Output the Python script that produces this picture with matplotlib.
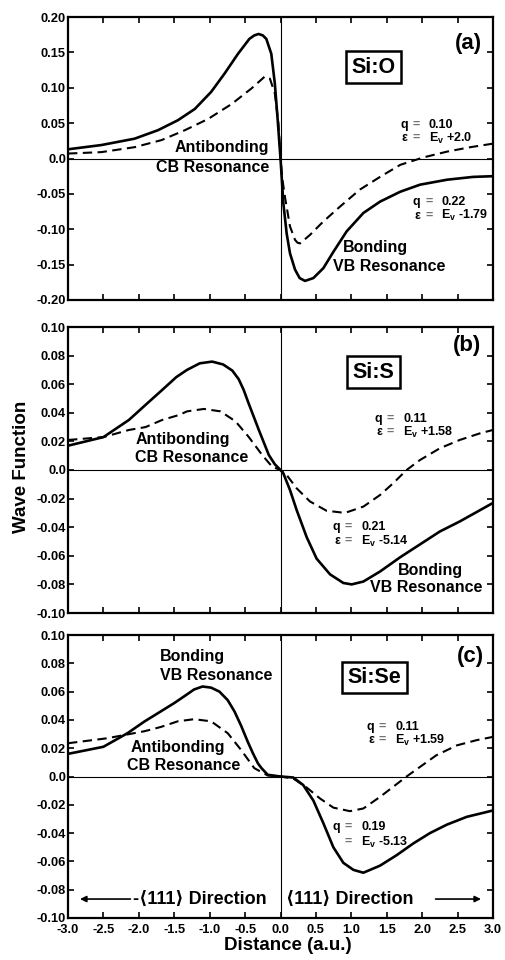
import matplotlib
matplotlib.use("Agg")
import matplotlib.pyplot as plt
from matplotlib.ticker import FixedLocator, FixedFormatter

plt.rcParams['font.family'] = ['Liberation Sans', 'DejaVu Sans']
plt.rcParams['font.weight'] = 'bold'
plt.rcParams['mathtext.fontset'] = 'custom'
plt.rcParams['mathtext.bf'] = 'Liberation Sans:bold'
plt.rcParams['mathtext.rm'] = 'Liberation Sans:bold'
plt.rcParams['mathtext.it'] = 'Liberation Sans:bold'

# ---- Si:O ----
o_solid_x = [-3.0, -2.53, -2.06, -1.73, -1.45, -1.21, -0.98, -0.79, -0.60, -0.44, -0.37, -0.31,
             -0.25, -0.20, -0.13, -0.08, -0.04, 0.0, 0.04, 0.087, 0.134, 0.205, 0.27, 0.346,
             0.464, 0.605, 0.746, 0.934, 1.17, 1.405, 1.69, 1.97, 2.35, 2.72, 3.0]
o_solid_y = [0.013, 0.019, 0.028, 0.040, 0.054, 0.070, 0.094, 0.120, 0.148, 0.169, 0.174, 0.176,
             0.174, 0.169, 0.148, 0.106, 0.055, 0.0, -0.063, -0.106, -0.134, -0.157, -0.169,
             -0.173, -0.169, -0.155, -0.132, -0.103, -0.077, -0.061, -0.047, -0.037, -0.030,
             -0.026, -0.025]
o_dash_x = [-3.0, -2.53, -2.06, -1.68, -1.35, -1.02, -0.69, -0.41, -0.22, -0.15, -0.08, -0.03,
            0.0, 0.025, 0.064, 0.134, 0.205, 0.24, 0.275, 0.416, 0.605, 0.84, 1.12, 1.405, 1.69,
            2.02, 2.35, 2.68, 3.0]
o_dash_y = [0.007, 0.009, 0.016, 0.026, 0.040, 0.056, 0.077, 0.099, 0.116, 0.113, 0.092, 0.050,
            0.0, -0.028, -0.055, -0.096, -0.115, -0.119, -0.120, -0.108, -0.089, -0.068, -0.044,
            -0.026, -0.009, 0.0016, 0.0097, 0.016, 0.021]

# ---- Si:S ----
s_solid_x = [-3.0, -2.75, -2.5, -2.14, -1.906, -1.67, -1.47, -1.32, -1.14, -0.965, -0.81, -0.68,
             -0.59, -0.52, -0.45, -0.306, -0.165, -0.08, 0.0, 0.04, 0.134, 0.228, 0.37, 0.51,
             0.70, 0.887, 1.005, 1.17, 1.405, 1.69, 1.97, 2.25, 2.53, 2.82, 3.0]
s_solid_y = [0.017, 0.020, 0.023, 0.035, 0.0455, 0.056, 0.065, 0.070, 0.0746, 0.0758, 0.0738,
             0.0695, 0.0635, 0.056, 0.0466, 0.028, 0.0105, 0.004, 0.0, -0.0023, -0.014, -0.028,
             -0.047, -0.062, -0.073, -0.079, -0.080, -0.078, -0.071, -0.061, -0.052, -0.043,
             -0.036, -0.028, -0.023]
s_dash_x = [-3.0, -2.5, -2.14, -1.906, -1.67, -1.43, -1.32, -1.08, -0.847, -0.635, -0.447,
            -0.259, -0.118, 0.0, 0.087, 0.228, 0.416, 0.65, 0.91, 1.17, 1.405, 1.59, 1.78, 1.97,
            2.25, 2.53, 2.82, 3.0]
s_dash_y = [0.021, 0.023, 0.028, 0.030, 0.035, 0.0385, 0.041, 0.0427, 0.041, 0.034, 0.023,
            0.0105, 0.0023, 0.0, -0.0035, -0.0128, -0.022, -0.0285, -0.030, -0.0256, -0.0175,
            -0.0093, 0.0, 0.007, 0.0152, 0.021, 0.0257, 0.028]

# ---- Si:Se ----
se_solid_x = [-3.0, -2.5, -2.16, -1.92, -1.69, -1.50, -1.335, -1.22, -1.1, -0.98, -0.863, -0.746,
              -0.65, -0.557, -0.462, -0.39, -0.32, -0.27, -0.18, 0.0, 0.18, 0.32, 0.464, 0.605,
              0.746, 0.887, 1.03, 1.17, 1.405, 1.64, 1.875, 2.11, 2.35, 2.63, 3.0]
se_solid_y = [0.016, 0.021, 0.0306, 0.0389, 0.046, 0.0519, 0.0575, 0.0615, 0.0636, 0.0628,
              0.060, 0.054, 0.046, 0.036, 0.0245, 0.0165, 0.0094, 0.006, 0.0012, 0.0, -0.0007,
              -0.006, -0.017, -0.033, -0.050, -0.061, -0.066, -0.068, -0.063, -0.0556, -0.0473,
              -0.040, -0.034, -0.0285, -0.024]
se_dash_x = [-3.0, -2.45, -1.92, -1.69, -1.45, -1.22, -0.98, -0.745, -0.557, -0.37, -0.18, 0.0,
             0.18, 0.37, 0.557, 0.746, 0.98, 1.17, 1.405, 1.59, 1.78, 1.97, 2.2, 2.49, 2.77, 3.0]
se_dash_y = [0.0235, 0.027, 0.032, 0.035, 0.039, 0.0405, 0.039, 0.0306, 0.0188, 0.0059, 0.0007,
             0.0, -0.0014, -0.0078, -0.0155, -0.022, -0.0245, -0.0226, -0.0144, -0.0073, 0.0,
             0.0068, 0.015, 0.022, 0.0257, 0.028]

x_ticks = [-3.0, -2.5, -2.0, -1.5, -1.0, -0.5, 0.0, 0.5, 1.0, 1.5, 2.0, 2.5, 3.0]
x_tick_labels = ['-3.0', '-2.5', '-2.0', '-1.5', '-1.0', '-0.5', '0.0', '0.5', '1.0', '1.5',
                 '2.0', '2.5', '3.0']
a_yticks = [0.20, 0.15, 0.10, 0.05, 0.0, -0.05, -0.10, -0.15, -0.20]
a_ylabels = ['0.20', '0.15', '0.10', '0.05', '0.0', '-0.05', '-0.10', '-0.15', '-0.20']
bc_yticks = [0.10, 0.08, 0.06, 0.04, 0.02, 0.0, -0.02, -0.04, -0.06, -0.08, -0.10]
bc_ylabels = ['0.10', '0.08', '0.06', '0.04', '0.02', '0.0', '-0.02', '-0.04', '-0.06',
              '-0.08', '-0.10']

W, H = 505, 960
fig = plt.figure(figsize=(W / 100, H / 100), dpi=100)


def make_axes(top_px, bot_px):
    left, right = 68, 493
    return fig.add_axes([left / W, 1 - bot_px / H, (right - left) / W, (bot_px - top_px) / H])


ax_a = make_axes(17, 300)
ax_b = make_axes(327, 613)
ax_c = make_axes(635, 918)

panels = [
    (ax_a, o_solid_x, o_solid_y, o_dash_x, o_dash_y, a_yticks, a_ylabels, 0.20),
    (ax_b, s_solid_x, s_solid_y, s_dash_x, s_dash_y, bc_yticks, bc_ylabels, 0.10),
    (ax_c, se_solid_x, se_solid_y, se_dash_x, se_dash_y, bc_yticks, bc_ylabels, 0.10),
]

for ax, sx, sy, dx, dy, yt, yl, lim in panels:
    ax.plot(sx, sy, color='black', lw=1.9, solid_joinstyle='round', zorder=3)
    ax.plot(dx, dy, color='black', lw=1.5, dashes=(4.5, 2.6), zorder=3)
    ax.axhline(0, color='black', lw=0.8, zorder=1)
    ax.axvline(0, color='black', lw=0.8, zorder=1)
    ax.set_xlim(-3.0, 3.0)
    ax.set_ylim(-lim, lim)
    ax.xaxis.set_major_locator(FixedLocator(x_ticks))
    ax.yaxis.set_major_locator(FixedLocator(yt))
    ax.yaxis.set_major_formatter(FixedFormatter(yl))
    ax.tick_params(direction='in', length=4.5, width=1.2, top=True, right=True,
                   labelsize=9.3)
    ax.tick_params(axis='y', pad=1.5)
    ax.tick_params(axis='x', pad=4)
    for lab in ax.get_yticklabels():
        lab.set_fontweight('bold')
    for sp in ax.spines.values():
        sp.set_linewidth(1.6)
    if ax is ax_c:
        ax.xaxis.set_major_formatter(FixedFormatter(x_tick_labels))
        for lab in ax.get_xticklabels():
            lab.set_fontweight('bold')
    else:
        ax.set_xticklabels([])

TXT = dict(fontsize=11.5, fontweight='bold')
SMALL = dict(fontsize=9, fontweight='bold')
BOX = dict(boxstyle='square,pad=0.25', fc='white', ec='black', lw=1.8)


def qe_block(ax, x0, y_q, y_e, qval, eval_, eps=True):
    # q / epsilon parameter lines with aligned values
    ax.text(x0, y_q, 'q', ha='left', va='center', **SMALL)
    ax.text(x0 + 0.17, y_q, '=', ha='left', va='center', color='0.45', fontsize=9)
    ax.text(x0 + 0.40, y_q, qval, ha='left', va='center', **SMALL)
    if eps:
        ax.text(x0 + 0.02, y_e, 'ε', ha='left', va='center', **SMALL)
    ax.text(x0 + 0.17, y_e, '=', ha='left', va='center', color='0.45', fontsize=9)
    ax.text(x0 + 0.40, y_e, r'$\mathbf{E_v}$ ' + eval_, ha='left', va='center', **SMALL)


# panel (a)
ax_a.text(2.65, 0.163, '(a)', ha='center', va='center', fontsize=16, fontweight='bold')
ax_a.text(1.31, 0.129, 'Si:O', ha='center', va='center', fontsize=15.5, fontweight='bold',
          bbox=BOX)
ax_a.text(-0.16, 0.015, 'Antibonding', ha='right', va='center', **TXT)
ax_a.text(-0.16, -0.013, 'CB Resonance', ha='right', va='center', **TXT)
qe_block(ax_a, 1.69, 0.047, 0.029, '0.10', '+2.0')
qe_block(ax_a, 1.87, -0.061, -0.081, '0.22', '-1.79')
ax_a.text(0.88, -0.126, 'Bonding', ha='left', va='center', **TXT)
ax_a.text(0.74, -0.153, 'VB Resonance', ha='left', va='center', **TXT)

# panel (b)
ax_b.text(2.63, 0.087, '(b)', ha='center', va='center', fontsize=16, fontweight='bold')
ax_b.text(1.31, 0.0685, 'Si:S', ha='center', va='center', fontsize=15.5, fontweight='bold',
          bbox=BOX)
ax_b.text(-2.05, 0.021, 'Antibonding', ha='left', va='center', **TXT)
ax_b.text(-2.05, 0.0084, 'CB Resonance', ha='left', va='center', **TXT)
qe_block(ax_b, 1.33, 0.036, 0.0266, '0.11', '+1.58')
qe_block(ax_b, 0.74, -0.040, -0.0497, '0.21', '-5.14')
ax_b.text(1.66, -0.0706, 'Bonding', ha='left', va='center', **TXT)
ax_b.text(1.26, -0.0825, 'VB Resonance', ha='left', va='center', **TXT)

# panel (c)
ax_c.text(2.68, 0.0845, '(c)', ha='center', va='center', fontsize=16, fontweight='bold')
ax_c.text(1.33, 0.070, 'Si:Se', ha='center', va='center', fontsize=15.5, fontweight='bold',
          bbox=BOX)
ax_c.text(-1.70, 0.0845, 'Bonding', ha='left', va='center', **TXT)
ax_c.text(-1.70, 0.0717, 'VB Resonance', ha='left', va='center', **TXT)
ax_c.text(-2.11, 0.0208, 'Antibonding', ha='left', va='center', **TXT)
ax_c.text(-2.17, 0.0081, 'CB Resonance', ha='left', va='center', **TXT)
qe_block(ax_c, 1.22, 0.035, 0.0258, '0.11', '+1.59')
qe_block(ax_c, 0.74, -0.0357, -0.0463, '0.19', '-5.13', eps=False)

# direction arrows along <111>
ax_c.annotate('', xy=(-2.87, -0.0866), xytext=(-2.08, -0.0866),
              arrowprops=dict(arrowstyle='-|>', color='black', lw=1.2, mutation_scale=9))
ax_c.text(-2.08, -0.0866, '-⟨111⟩ Direction', ha='left', va='center', fontsize=13,
          fontweight='bold')
ax_c.text(0.08, -0.0866, '⟨111⟩ Direction', ha='left', va='center', fontsize=13,
          fontweight='bold')
ax_c.annotate('', xy=(2.87, -0.0866), xytext=(2.15, -0.0866),
              arrowprops=dict(arrowstyle='-|>', color='black', lw=1.2, mutation_scale=9))

fig.text(22 / W, 1 - 467 / H, 'Wave Function', rotation=90, ha='center', va='center',
         fontsize=13.5, fontweight='bold')
fig.text(288 / W, 1 - 945 / H, 'Distance (a.u.)', ha='center', va='center',
         fontsize=13.5, fontweight='bold')

fig.savefig('out.png', dpi=100, facecolor='white')
